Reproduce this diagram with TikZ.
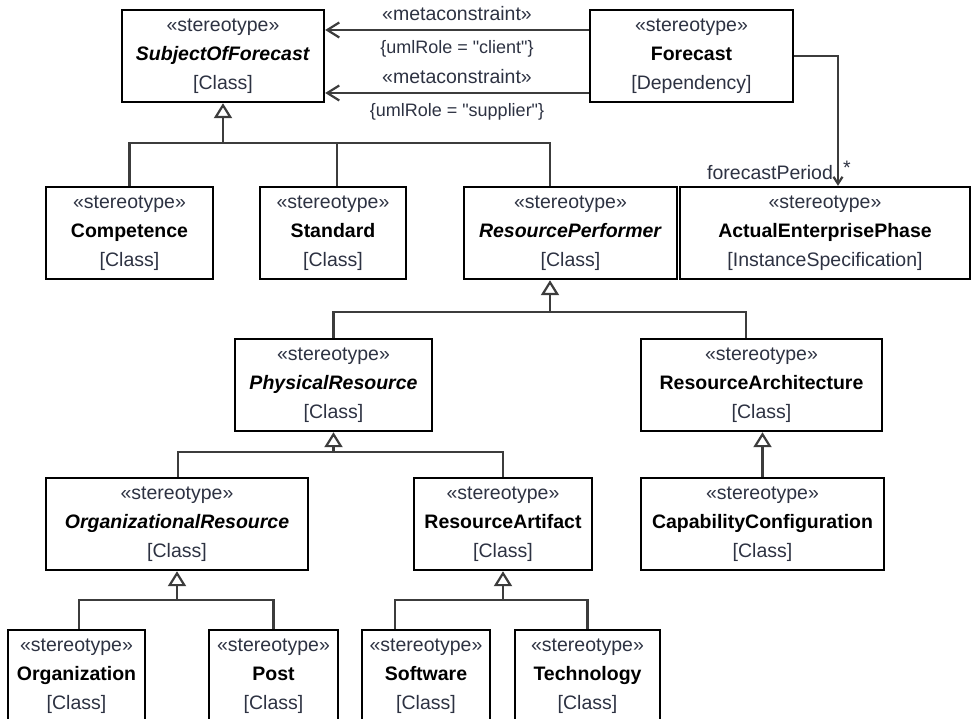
\documentclass[tikz,border=0pt]{standalone}
\usepackage{fontspec}
\setmainfont{Liberation Sans}
\usetikzlibrary{arrows.meta, positioning}
\usepackage{xcolor}
\definecolor{umlLine}{RGB}{60, 60, 60}
\definecolor{umlText}{RGB}{45, 50, 66}
\newcommand{\stereo}[2]{{\color{umlText}«stereotype»}\\#1\\{\color{umlText}[#2]}}

\begin{document}
\begin{tikzpicture}[x=1pt, y=-1pt,
    box/.style={rectangle, draw=black, line width=2.4pt, fill=white, align=center, inner sep=0pt, minimum height=92pt, font=\fontsize{19.5}{29}\selectfont},
    link/.style={line width=2.2pt, umlLine, line join=miter},
    gen/.style={link, -{Triangle[open, length=15pt, width=18pt, fill=white]}},
    meta/.style={link, -{Straight Barb[length=12pt, width=15pt]}},
    assoc/.style={link, -{Straight Barb[length=7pt, width=9pt]}},
    lbl/.style={font=\fontsize{19.5}{22}\selectfont, text=umlText},
    role/.style={font=\fontsize{18}{20}\selectfont, text=umlText}
]
\useasboundingbox (0,0) rectangle (972,719);

% Nodes placed at pixel positions of the original layout
\node[box, minimum width=202pt] (subject)  at (223,56)   {\stereo{\textbf{\textit{SubjectOfForecast}}}{Class}};
\node[box, minimum width=203pt] (forecast) at (691.5,56) {\stereo{\textbf{Forecast}}{Dependency}};

\node[box, minimum width=167pt] (competence) at (129.5,233) {\stereo{\textbf{Competence}}{Class}};
\node[box, minimum width=146pt] (standard)   at (333,233)   {\stereo{\textbf{Standard}}{Class}};
\node[box, minimum width=213pt] (performer)  at (570.5,233) {\stereo{\textbf{\textit{ResourcePerformer}}}{Class}};
\node[box, minimum width=290pt] (phase)      at (825,233)   {\stereo{\textbf{ActualEnterprisePhase}}{InstanceSpecification}};

\node[box, minimum width=197pt] (physical)     at (333.5,385) {\stereo{\textbf{\textit{PhysicalResource}}}{Class}};
\node[box, minimum width=241pt] (architecture) at (761.5,385) {\stereo{\textbf{ResourceArchitecture}}{Class}};

\node[box, minimum width=262pt] (orgres)     at (177,524)   {\stereo{\textbf{\textit{OrganizationalResource}}}{Class}};
\node[box, minimum width=178pt] (artifact)   at (503,524)   {\stereo{\textbf{ResourceArtifact}}{Class}};
\node[box, minimum width=243pt] (capability) at (762.5,524) {\stereo{\textbf{CapabilityConfiguration}}{Class}};

\node[box, minimum width=137pt] (organization) at (76.5,676)  {\stereo{\textbf{Organization}}{Class}};
\node[box, minimum width=129pt] (post)         at (273.5,676) {\stereo{\textbf{Post}}{Class}};
\node[box, minimum width=128pt] (software)     at (426,676)   {\stereo{\textbf{Software}}{Class}};
\node[box, minimum width=145pt] (technology)   at (587.5,676) {\stereo{\textbf{Technology}}{Class}};

% Forecast dependency ends
\draw[meta] ([yshift=26]forecast.west) -- node[above, lbl, yshift=5pt] {«metaconstraint»} node[below, role, yshift=-6pt] {\{umlRole = \textquotedbl client\textquotedbl\}} ([yshift=26]forecast.west -| subject.east);
\draw[meta] ([yshift=-37]forecast.west) -- node[above, lbl, yshift=5pt] {«metaconstraint»} node[below, role, yshift=-6pt] {\{umlRole = \textquotedbl supplier\textquotedbl\}} ([yshift=-37]forecast.west -| subject.east);
\draw[assoc] (forecast.east) -| node[pos=0.95, left, lbl, inner sep=4pt] {forecastPeriod} node[pos=0.93, right, lbl, inner sep=4pt] {*} ([xshift=13]phase.north);

% Generalization trees
\coordinate (t1) at (223,143);
\draw[gen] (t1) -- (subject);
\draw[link] (competence.north) |- (t1) -| ([xshift=-20.5]performer.north);
\draw[link] ([xshift=4]standard.north) -- ([xshift=4]standard.north |- t1);

\coordinate (t2) at (550,312);
\draw[gen] (t2) -- (t2 |- performer.south);
\draw[link] (physical.north) |- (t2) -| ([xshift=-15.5]architecture.north);

\coordinate (t3) at (333.5,452);
\draw[gen] (t3) -- (physical);
\draw[link] ([xshift=1]orgres.north) |- (t3) -| (artifact.north);

\draw[gen] (capability.north) -- (capability.north |- architecture.south);

\coordinate (t4) at (177,600);
\draw[gen] (t4) -- (orgres);
\draw[link] ([xshift=2.5]organization.north) |- (t4) -| (post.north);

\coordinate (t5) at (503,600);
\draw[gen] (t5) -- (artifact);
\draw[link] ([xshift=-31]software.north) |- (t5) -| (technology.north);

\end{tikzpicture}
\end{document}
